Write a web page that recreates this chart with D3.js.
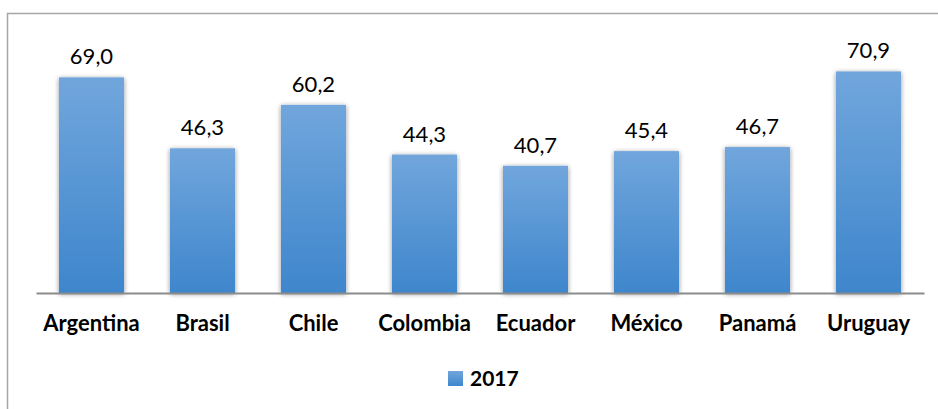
<!DOCTYPE html>
<html>
<head>
<meta charset="utf-8">
<script src="https://cdn.jsdelivr.net/npm/d3@7"></script>
<style>
  body { margin: 0; background: #fff; }
  .value { font-family: Lato, sans-serif; font-size: 22px; fill: #000; }
  .cat { font-family: Lato, sans-serif; font-weight: 700; font-size: 22px; fill: #000; }
  .legend { font-family: Lato, sans-serif; font-weight: 700; font-size: 21px; fill: #000; }
</style>
</head>
<body>
<svg id="chart" width="938" height="409"></svg>
<script>
// values
const countries = ['Argentina', 'Brasil', 'Chile', 'Colombia', 'Ecuador', 'México', 'Panamá', 'Uruguay'];
const values2017 = [69.0, 46.3, 60.2, 44.3, 40.7, 45.4, 46.7, 70.9];
const seriesName = '2017';

const svg = d3.select('#chart');
const margin = { top: 43, right: 14, bottom: 116, left: 36 };
const width = 938 - margin.left - margin.right;
const height = 409 - margin.top - margin.bottom;

// outer frame, open at the right and bottom like the cropped original
svg.append('rect')
    .attr('x', 7.5).attr('y', 13.5)
    .attr('width', 960).attr('height', 420)
    .attr('fill', 'none')
    .attr('stroke', '#a6a6a6')
    .attr('stroke-width', 1.5);

const defs = svg.append('defs');
const grad = defs.append('linearGradient')
    .attr('id', 'barGrad')
    .attr('x1', 0).attr('y1', 0).attr('x2', 0).attr('y2', 1);
grad.append('stop').attr('offset', '0%').attr('stop-color', '#71a6dc');
grad.append('stop').attr('offset', '100%').attr('stop-color', '#3e86cc');

const shadow = defs.append('filter')
    .attr('id', 'barShadow')
    .attr('x', '-20%').attr('y', '-10%').attr('width', '140%').attr('height', '120%');
shadow.append('feGaussianBlur').attr('in', 'SourceAlpha').attr('stdDeviation', 2.5).attr('result', 'blur');
shadow.append('feOffset').attr('in', 'blur').attr('dx', 0).attr('dy', 1).attr('result', 'off');
shadow.append('feComponentTransfer').attr('in', 'off').attr('result', 'soft')
    .append('feFuncA').attr('type', 'linear').attr('slope', 0.45);
const merge = shadow.append('feMerge');
merge.append('feMergeNode').attr('in', 'soft');
merge.append('feMergeNode').attr('in', 'SourceGraphic');

const g = svg.append('g').attr('transform', `translate(${margin.left},${margin.top})`);

const x = d3.scaleBand()
    .domain(countries)
    .range([0, width])
    .paddingInner(0.414)
    .paddingOuter(0.207);

const y = d3.scaleLinear()
    .domain([0, 80])
    .range([height, 0]);

const data = countries.map((c, i) => ({ country: c, value: values2017[i] }));

g.selectAll('.bar')
    .data(data)
    .join('rect')
    .attr('class', 'bar')
    .attr('x', d => x(d.country))
    .attr('y', d => y(d.value))
    .attr('width', x.bandwidth())
    .attr('height', d => height - y(d.value))
    .attr('fill', 'url(#barGrad)')
    .attr('filter', 'url(#barShadow)');

g.selectAll('.value')
    .data(data)
    .join('text')
    .attr('class', 'value')
    .attr('x', d => x(d.country) + x.bandwidth() / 2)
    .attr('y', d => y(d.value) - 13)
    .attr('text-anchor', 'middle')
    .text(d => d3.format('.1f')(d.value).replace('.', ','));

// baseline axis
const xAxis = g.append('g')
    .attr('transform', `translate(0,${height})`)
    .call(d3.axisBottom(x).tickSize(0).tickPadding(22));
xAxis.select('.domain').attr('stroke', '#8c8c8c').attr('stroke-width', 2);
xAxis.selectAll('text').attr('class', 'cat').attr('font-family', null).attr('font-size', null);

// legend
const legend = svg.append('g').attr('transform', 'translate(448,371)');
legend.append('rect')
    .attr('width', 15).attr('height', 15)
    .attr('fill', 'url(#barGrad)');
legend.append('text')
    .attr('class', 'legend')
    .attr('x', 22).attr('y', 15)
    .text(seriesName);
</script>
</body>
</html>
